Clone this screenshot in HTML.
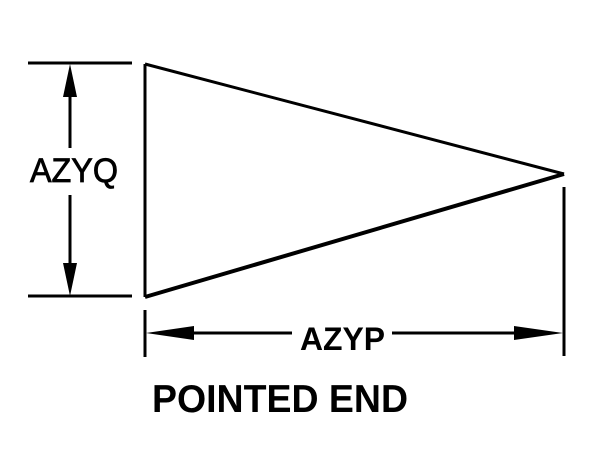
<!DOCTYPE html>
<html><head><style>body{margin:0;background:#fff}svg{display:block}</style></head>
<body>
<svg width="600" height="471" xmlns="http://www.w3.org/2000/svg">
<g stroke="#000" stroke-width="3" fill="none">
<line x1="28" y1="63" x2="132" y2="63"/>
<line x1="28" y1="296" x2="132" y2="296"/>
<line x1="70" y1="90" x2="70" y2="148"/>
<line x1="70" y1="195" x2="70" y2="270"/>
<polyline points="145,64 145,297"/>
<line x1="145" y1="64" x2="564" y2="174"/>
<line x1="145" y1="297" x2="564" y2="174" stroke-width="4"/>
<line x1="564" y1="187" x2="564" y2="356"/>
<line x1="145" y1="310" x2="145" y2="357"/>
<line x1="190" y1="333" x2="292" y2="333"/>
<line x1="392" y1="333" x2="515" y2="333"/>
</g>
<g fill="#000">
<polygon points="70,64 63,97 77,97"/>
<polygon points="70,296 63,263 77,263"/>
<polygon points="146,333 194,326 194,340"/>
<polygon points="563,333 514,326 514,340"/>
</g>
<g font-family="Liberation Sans, sans-serif" font-weight="bold" fill="#000">
<text x="30" y="182" font-size="34" textLength="88" lengthAdjust="spacingAndGlyphs" font-weight="normal" stroke="#000" stroke-width="0.8">AZYQ</text>
<text x="300" y="350" font-size="32" textLength="85" lengthAdjust="spacingAndGlyphs">AZYP</text>
<text x="152" y="412" font-size="39" textLength="256" lengthAdjust="spacingAndGlyphs">POINTED END</text>
</g>
</svg>
</body></html>
